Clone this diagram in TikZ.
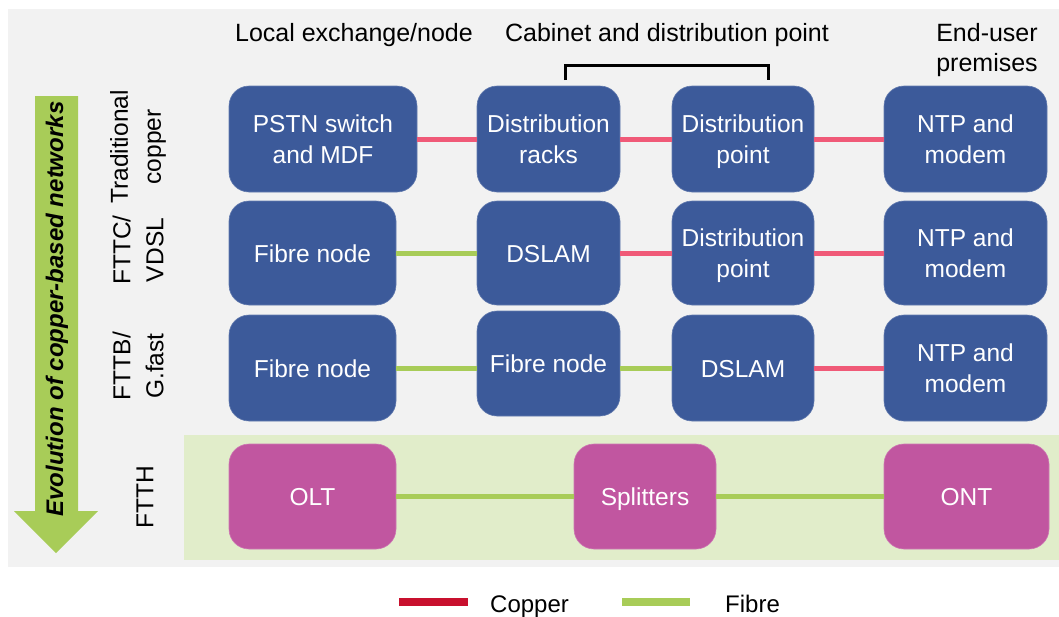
\documentclass[tikz,border=0pt]{standalone}
\usepackage{fontspec}
\setmainfont{Liberation Sans}
\definecolor{bggrey}{HTML}{F2F2F2}
\definecolor{bandgreen}{HTML}{E1EDCA}
\definecolor{boxblue}{HTML}{3C5A9A}
\definecolor{boxmag}{HTML}{C156A0}
\definecolor{fibregreen}{HTML}{A8CC58}
\definecolor{copperpink}{HTML}{F05A78}
\definecolor{copperred}{HTML}{C8102E}
\newcommand{\ls}{\rule[-6.5pt]{0pt}{31pt}}
\tikzset{
  bx/.style={rounded corners=20pt, fill=boxblue, draw=boxblue!80!white, line width=0.6pt, text=white, align=center, inner sep=0pt, font=\fontsize{24.5}{31}\selectfont},
  mbx/.style={bx, fill=boxmag, draw=boxmag!80!white},
  cu/.style={copperpink, line width=5pt},
  fi/.style={fibregreen, line width=5pt},
  hdr/.style={font=\fontsize{25}{30}\selectfont, align=center, inner sep=0pt},
  rowlbl/.style={font=\fontsize{24.5}{33}\selectfont, align=center, rotate=90, inner sep=0pt},
  leg/.style={font=\fontsize{24}{29}\selectfont, inner sep=0pt, anchor=base west}
}
\begin{document}
\begin{tikzpicture}[x=1pt,y=-1pt]
\useasboundingbox (0,0) rectangle (1059,616);
% backgrounds
\fill[bggrey] (8,9) rectangle (1059,567);
\fill[bandgreen] (184,435) rectangle (1059,560);
% evolution arrow
\fill[fibregreen] (35,96) -- (78,96) -- (78,511) -- (98,511) -- (56,553) -- (14,511) -- (35,511) -- cycle;
\node[rotate=90, font=\fontsize{24}{29}\selectfont\bfseries\itshape, inner sep=0pt] (evo) at (57,309) {Evolution of copper-based networks};
% headers
\node[hdr] (h1) at (354,35) {Local exchange/node};
\node[hdr] (h2) at (667,35) {Cabinet and distribution point};
\node[hdr] (h3) at (987,50) {End-user\\premises};
\coordinate (bl) at (565,80);
\coordinate (br) at (768,80);
\draw[line width=3pt] (bl) -- ++(0,-15) -| (br);
% row labels
\node[rowlbl] (l1) at (138,147) {Traditional\\copper};
\node[rowlbl] (l2) at (138,250) {FTTC/\\VDSL};
\node[rowlbl] (l3) at (138,366) {FTTB/\\G.fast};
\node[rowlbl] (l4) at (145,497) {FTTH};
% row 1
\node[bx, minimum width=188pt, minimum height=106pt] (pstn) at (323,139) {PSTN switch\ls\\and MDF\ls};
\node[bx, minimum width=143pt, minimum height=106pt] (racks) at (548.5,139) {Distribution\ls\\racks\ls};
\node[bx, minimum width=142pt, minimum height=106pt] (dp1) at (743,139) {Distribution\ls\\point\ls};
\node[bx, minimum width=163pt, minimum height=106pt] (ntp1) at (965.5,139) {NTP and\ls\\modem\ls};
% row 2
\node[bx, minimum width=167pt, minimum height=104pt] (fn2) at (312.5,253) {Fibre node\ls};
\node[bx, minimum width=143pt, minimum height=104pt] (dslam2) at (548.5,253) {DSLAM\ls};
\node[bx, minimum width=142pt, minimum height=104pt] (dp2) at (743,253) {Distribution\ls\\point\ls};
\node[bx, minimum width=163pt, minimum height=104pt] (ntp2) at (965.5,253) {NTP and\ls\\modem\ls};
% row 3
\node[bx, minimum width=167pt, minimum height=106pt] (fn3a) at (312.5,368) {Fibre node\ls};
\node[bx, minimum width=143pt, minimum height=105pt] (fn3b) at (548.5,363.5) {Fibre node\ls};
\node[bx, minimum width=142pt, minimum height=106pt] (dslam3) at (743,368) {DSLAM\ls};
\node[bx, minimum width=163pt, minimum height=106pt] (ntp3) at (965.5,368) {NTP and\ls\\modem\ls};
% row 4
\node[mbx, minimum width=167pt, minimum height=105pt] (olt) at (312.5,496.5) {OLT\ls};
\node[mbx, minimum width=142pt, minimum height=105pt] (split) at (645,496.5) {Splitters\ls};
\node[mbx, minimum width=165pt, minimum height=105pt] (ont) at (966.5,496.5) {ONT\ls};
% connectors
\draw[cu] (pstn.east) -- (racks.west);
\draw[cu] (racks.east) -- (dp1.west);
\draw[cu] (dp1.east) -- (ntp1.west);
\draw[fi] (fn2.east) -- (dslam2.west);
\draw[cu] (dslam2.east) -- (dp2.west);
\draw[cu] (dp2.east) -- (ntp2.west);
\draw[fi] (fn3a.east) -- (fn3a.east -| fn3b.west);
\draw[fi] (dslam3.west -| fn3b.east) -- (dslam3.west);
\draw[cu] (dslam3.east) -- (ntp3.west);
\draw[fi] (olt.east) -- (split.west);
\draw[fi] (split.east) -- (ont.west);
% legend
\coordinate (lc1) at (399,602);
\coordinate (lc2) at (468,602);
\coordinate (lf1) at (622,602);
\coordinate (lf2) at (690,602);
\draw[copperred, line width=8pt] (lc1) -- (lc2);
\draw[fibregreen, line width=8pt] (lf1) -- (lf2);
\node[leg] (tc) at (490,612) {Copper};
\node[leg] (tf) at (725,612) {Fibre};
\end{tikzpicture}
\end{document}
